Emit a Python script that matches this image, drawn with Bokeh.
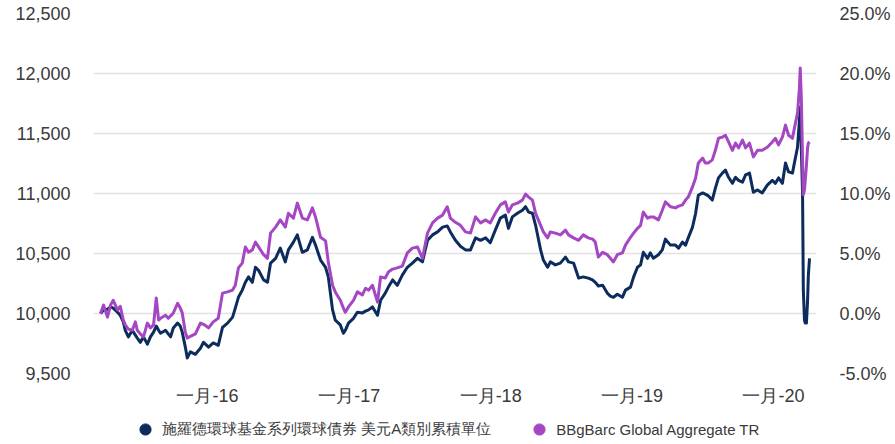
import pandas as pd
from bokeh.plotting import figure
from bokeh.layouts import column
from bokeh.models import (Range1d, LinearAxis, FixedTicker, NumeralTickFormatter,
                          PrintfTickFormatter, Legend, LegendItem, ColumnDataSource)
from bokeh.embed import file_html
from bokeh.resources import INLINE

dates = [
    "2015-03-31","2015-04-08","2015-04-18","2015-04-26","2015-05-03","2015-05-14","2015-05-21","2015-05-29",
    "2015-06-03","2015-06-11","2015-06-21","2015-06-29","2015-07-04","2015-07-12","2015-07-20","2015-07-30",
    "2015-08-07","2015-08-15","2015-08-22","2015-08-28","2015-09-02","2015-09-15","2015-09-22","2015-09-28",
    "2015-10-05","2015-10-16","2015-10-23","2015-10-28","2015-11-05","2015-11-10","2015-11-18","2015-12-01",
    "2015-12-14","2015-12-22","2016-01-04","2016-01-16","2016-01-29","2016-02-09","2016-02-22","2016-03-06",
    "2016-03-13","2016-03-21","2016-03-31","2016-04-08","2016-04-16","2016-04-26","2016-05-04","2016-05-12",
    "2016-05-25","2016-06-04","2016-06-12","2016-06-25","2016-07-07","2016-07-20","2016-07-28","2016-08-10",
    "2016-08-20","2016-09-02","2016-09-15","2016-09-28","2016-10-06","2016-10-19","2016-11-01","2016-11-08",
    "2016-11-19","2016-11-26","2016-12-09","2016-12-17","2016-12-22","2016-12-30","2017-01-12","2017-01-22",
    "2017-02-04","2017-02-12","2017-02-20","2017-03-02","2017-03-15","2017-03-23","2017-04-04","2017-04-12",
    "2017-04-23","2017-05-05","2017-05-18","2017-05-31","2017-06-13","2017-06-26","2017-07-09","2017-07-22",
    "2017-08-04","2017-08-17","2017-08-30","2017-09-11","2017-09-19","2017-10-02","2017-10-15","2017-10-28",
    "2017-11-10","2017-11-23","2017-12-06","2017-12-19","2017-12-31","2018-01-13","2018-01-26","2018-02-08",
    "2018-02-16","2018-02-26","2018-03-11","2018-03-24","2018-04-01","2018-04-09","2018-04-19","2018-04-27",
    "2018-05-10","2018-05-17","2018-05-28","2018-06-04","2018-06-17","2018-06-30","2018-07-13","2018-07-21",
    "2018-08-03","2018-08-16","2018-08-28","2018-09-10","2018-09-21","2018-09-28","2018-10-06","2018-10-17",
    "2018-10-29","2018-11-06","2018-11-14","2018-11-24","2018-12-07","2018-12-15","2018-12-28","2019-01-05",
    "2019-01-15","2019-01-23","2019-01-30","2019-02-10","2019-02-17","2019-02-25","2019-03-10","2019-03-20",
    "2019-03-28","2019-04-10","2019-04-23","2019-05-01","2019-05-11","2019-05-19","2019-05-26","2019-06-06",
    "2019-06-14","2019-06-21","2019-07-02","2019-07-09","2019-07-17","2019-07-27","2019-08-04","2019-08-12",
    "2019-08-22","2019-08-30","2019-09-07","2019-09-17","2019-09-25","2019-10-03","2019-10-13","2019-10-21",
    "2019-10-31","2019-11-10","2019-11-21","2019-12-03","2019-12-16","2019-12-29","2020-01-06","2020-01-14",
    "2020-01-24","2020-02-01","2020-02-09","2020-02-19","2020-02-24","2020-03-03","2020-03-08","2020-03-10",
    "2020-03-13","2020-03-16","2020-03-18","2020-03-21","2020-03-23","2020-03-26","2020-03-29","2020-03-31",
    "2020-04-03",
]

fund = [
    10000,10030,10035,10055,10045,10010,9985,9930,
    9860,9805,9860,9820,9795,9760,9805,9745,
    9805,9845,9895,9860,9835,9860,9830,9805,
    9880,9920,9895,9845,9720,9630,9680,9660,
    9710,9760,9720,9755,9735,9885,9920,9970,
    10045,10135,10195,10260,10305,10260,10385,10360,
    10280,10260,10420,10460,10545,10430,10530,10595,
    10655,10510,10530,10635,10570,10445,10385,10305,
    10030,9945,9905,9835,9860,9920,9960,10010,
    10005,10020,10030,10055,9985,10110,10170,10220,
    10280,10235,10320,10385,10420,10460,10430,10610,
    10655,10680,10720,10730,10680,10610,10560,10530,
    10530,10630,10610,10630,10590,10695,10795,10820,
    10710,10805,10835,10860,10890,10845,10835,10735,
    10530,10445,10385,10430,10405,10420,10470,10430,
    10420,10295,10305,10295,10280,10260,10230,10235,
    10170,10145,10135,10160,10135,10195,10220,10305,
    10385,10405,10510,10460,10505,10460,10490,10530,
    10620,10570,10570,10545,10595,10570,10630,10720,
    10835,10985,11005,10995,10980,10945,11045,11130,
    11170,11195,11135,11085,11135,11110,11095,11155,
    11170,11010,11030,11005,11070,11110,11085,11130,
    11085,11255,11180,11170,11255,11385,11610,11720,
    11360,11005,10195,9945,9920,9920,10110,10320,
    10460,
]

bench = [
    10000,10070,9970,10070,10110,10030,10060,9945,
    9905,9870,9860,9930,9860,9830,9805,9920,
    9880,9905,10130,9945,9960,9985,9960,9980,
    10005,10085,10045,10005,9845,9795,9810,9830,
    9920,9910,9880,9930,9960,10170,10180,10195,
    10235,10380,10420,10555,10510,10530,10595,10555,
    10490,10460,10670,10720,10780,10720,10835,10795,
    10920,10795,10780,10880,10805,10635,10605,10430,
    10235,10180,10110,10045,10010,10055,10110,10180,
    10155,10210,10195,10235,10095,10305,10295,10345,
    10370,10380,10395,10505,10545,10555,10460,10670,
    10755,10795,10820,10890,10795,10760,10735,10680,
    10670,10805,10755,10780,10755,10835,10905,10930,
    10845,10905,10920,10945,10995,10970,10945,10835,
    10735,10680,10630,10680,10670,10655,10695,10655,
    10630,10610,10655,10630,10620,10595,10470,10510,
    10490,10460,10430,10490,10505,10570,10635,10670,
    10710,10735,10845,10795,10805,10805,10780,10860,
    10930,10890,10880,10895,10905,10945,10970,11055,
    11130,11255,11295,11255,11255,11280,11360,11460,
    11470,11485,11430,11360,11420,11380,11445,11380,
    11420,11305,11360,11360,11385,11430,11460,11405,
    11470,11570,11485,11460,11545,11670,11885,12045,
    11780,11280,10990,11030,11110,11235,11380,11420,
    11430,
]

series_names = ["施羅德環球基金系列環球債券 美元A類別累積單位", "BBgBarc Global Aggregate TR"]
series_colors = ["#0b2c5c", "#a546c3"]

left_ticks = [9500, 10000, 10500, 11000, 11500, 12000, 12500]
right_ticks = [-5, 0, 5, 10, 15, 20, 25]
x_tick_dates = ["2016-01-01", "2017-01-01", "2018-01-01", "2019-01-01", "2020-01-01"]
x_tick_labels = ["一月-16", "一月-17", "一月-18", "一月-19", "一月-20"]

FONT = "Liberation Sans"
TXT = "#3a3a3a"

src = ColumnDataSource(dict(date=pd.to_datetime(dates), fund=fund, bench=bench))

p = figure(width=895, height=412, x_axis_type="datetime", output_backend="svg",
           toolbar_location=None,
           x_range=Range1d(pd.Timestamp("2015-03-13"), pd.Timestamp("2020-04-21")),
           y_range=Range1d(9500, 12500),
           min_border_left=93, min_border_right=79, min_border_top=13, min_border_bottom=39)
p.outline_line_color = None
p.xgrid.grid_line_color = None
p.ygrid.grid_line_color = "#e2e2e2"
p.ygrid.grid_line_width = 1.5
p.ygrid.ticker = FixedTicker(ticks=left_ticks)

r1 = p.line("date", "fund", source=src, line_color=series_colors[0], line_width=3, line_join="round")
r2 = p.line("date", "bench", source=src, line_color=series_colors[1], line_width=3, line_join="round")

def style_axis(ax):
    ax.axis_line_color = None
    ax.major_tick_line_color = None
    ax.minor_tick_line_color = None
    ax.major_tick_out = 0
    ax.minor_tick_out = 0
    ax.major_label_text_font = FONT
    ax.major_label_text_font_size = "18px"
    ax.major_label_text_color = TXT

ly = p.yaxis[0]
ly.ticker = FixedTicker(ticks=left_ticks)
ly.formatter = NumeralTickFormatter(format="0,0")
ly.major_label_standoff = 23
style_axis(ly)

p.extra_y_ranges = {"pct": Range1d(-5, 25)}
ry = LinearAxis(y_range_name="pct", ticker=FixedTicker(ticks=right_ticks),
                formatter=PrintfTickFormatter(format="%.1f%%"))
ry.major_label_standoff = 23
style_axis(ry)
p.add_layout(ry, "right")

xt = [int(v) for v in (pd.to_datetime(x_tick_dates).astype("int64") // 10**6)]
xa = p.xaxis[0]
xa.ticker = FixedTicker(ticks=xt)
xa.major_label_overrides = {t: l for t, l in zip(xt, x_tick_labels)}
xa.major_label_standoff = 12
style_axis(xa)

# legend strip below the chart (its frame is aligned with the chart frame)
lf = figure(width=895, height=32, output_backend="svg", toolbar_location=None,
            x_range=Range1d(0, 1), y_range=Range1d(0, 1),
            x_axis_location=None, y_axis_location=None,
            min_border_left=93, min_border_right=79, min_border_top=0, min_border_bottom=0)
lf.outline_line_color = None
lf.xgrid.visible = False
lf.ygrid.visible = False
leg_src = ColumnDataSource(dict(x=[-5], y=[-5]))
g1 = lf.scatter("x", "y", source=leg_src, size=14, marker="circle",
                fill_color=series_colors[0], line_color=series_colors[0])
g2 = lf.scatter("x", "y", source=leg_src, size=14, marker="circle",
                fill_color=series_colors[1], line_color=series_colors[1])
legend = Legend(items=[LegendItem(label=series_names[0], renderers=[g1]),
                       LegendItem(label=series_names[1], renderers=[g2])],
                orientation="horizontal", location=(38, 1),
                glyph_width=28, glyph_height=28, label_standoff=3, spacing=34,
                label_text_font=FONT, label_text_font_size="15px", label_text_color=TXT,
                border_line_color=None, background_fill_alpha=0, padding=0, margin=0)
lf.add_layout(legend, "center")

open("out.html", "w").write(file_html(column(p, lf, spacing=0), INLINE))
